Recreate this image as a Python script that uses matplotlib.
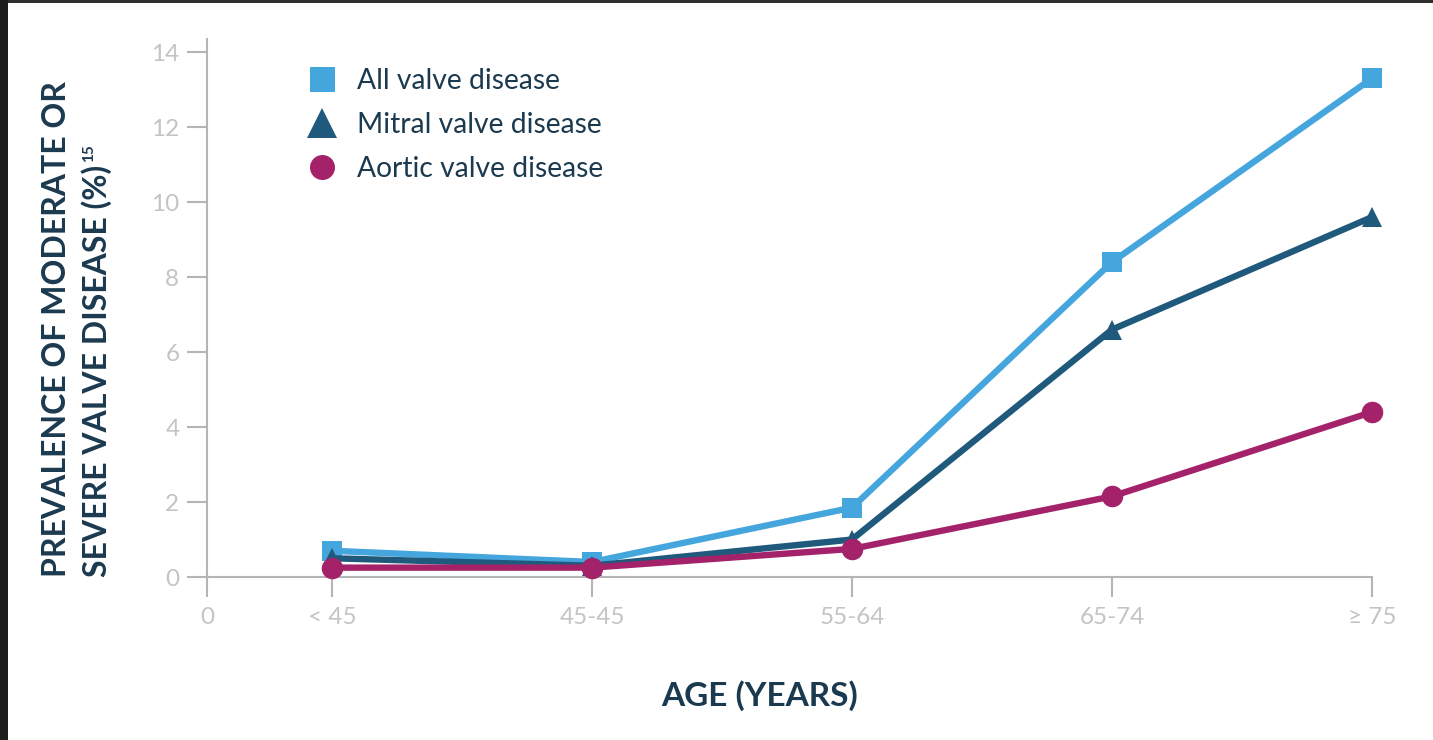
import matplotlib
matplotlib.use("Agg")
import matplotlib.pyplot as plt
from matplotlib.lines import Line2D
from matplotlib.patches import Rectangle

# ---- data -------------------------------------------------------------
age_groups = ["< 45", "45-45", "55-64", "65-74", "\u2265 75"]
all_valve = [0.7, 0.4, 1.85, 8.4, 13.3]
mitral_valve = [0.5, 0.3, 1.0, 6.6, 9.6]
aortic_valve = [0.25, 0.25, 0.75, 2.15, 4.4]
y_ticks = [0, 2, 4, 6, 8, 10, 12, 14]
origin_label = "0"

series_names = ["All valve disease", "Mitral valve disease", "Aortic valve disease"]

# ---- style ------------------------------------------------------------
C_ALL = "#45a6de"
C_MITRAL = "#1f5a7c"
C_AORTIC = "#a4226a"
C_TEXT = "#1b3a4f"
C_AXIS = "#b5b5b5"
C_TICKLBL = "#c4c4c4"

plt.rcParams["font.family"] = ["Lato", "DejaVu Sans"]

W, H = 1433, 740
fig = plt.figure(figsize=(W / 100, H / 100), dpi=100)
fig.patch.set_facecolor("white")

# dark frame strips along top and left edges
fig.patches.append(Rectangle((0, 1 - 3 / H), 1, 3 / H, transform=fig.transFigure,
                             facecolor="#2e2e2e", edgecolor="none", zorder=0))
fig.patches.append(Rectangle((0, 0), 8 / W, 1, transform=fig.transFigure,
                             facecolor="#1d1d1d", edgecolor="none", zorder=0))

ax_left, ax_right = 207 / W, 1372 / W
ax_bottom, ax_top = (H - 577) / H, (H - 39) / H
ax = fig.add_axes([ax_left, ax_bottom, ax_right - ax_left, ax_top - ax_bottom])

x = list(range(1, len(age_groups) + 1))
x_origin = 1 - 125 / 260

line_kw = dict(linewidth=4.6, clip_on=False, markeredgewidth=0)
ax.plot(x, all_valve, color=C_ALL, marker="s", markersize=14.5, zorder=3, **line_kw)
ax.plot(x, mitral_valve, color=C_MITRAL, marker="^", markersize=15, zorder=4, **line_kw)
ax.plot(x, aortic_valve, color=C_AORTIC, marker="o", markersize=15.5, zorder=5, **line_kw)

ax.set_xlim(x_origin, x[-1])
ax.set_ylim(0, 14.35)

ax.set_xticks([x_origin] + x)
ax.set_xticklabels([origin_label] + age_groups)
ax.set_yticks(y_ticks)
ax.set_yticklabels([str(v) for v in y_ticks])

for side in ("top", "right"):
    ax.spines[side].set_visible(False)
for side in ("left", "bottom"):
    ax.spines[side].set_color(C_AXIS)
    ax.spines[side].set_linewidth(1.5)

ax.tick_params(axis="both", direction="out", length=14.4, width=1.5, color=C_AXIS,
               labelcolor=C_TICKLBL, labelsize=17.5)
ax.tick_params(axis="y", pad=5.5)
ax.tick_params(axis="x", pad=7.5)

# legend
handles = [
    Line2D([], [], linestyle="none", marker="s", markersize=18, color=C_ALL, markeredgewidth=0),
    Line2D([], [], linestyle="none", marker="^", markersize=21, color=C_MITRAL, markeredgewidth=0),
    Line2D([], [], linestyle="none", marker="o", markersize=18, color=C_AORTIC, markeredgewidth=0),
]
leg = ax.legend(handles, series_names, loc="upper left",
                bbox_to_anchor=(308 / W, (H - 68) / H), bbox_transform=fig.transFigure,
                frameon=False, fontsize=20.3, handlelength=0.96, handletextpad=0.77,
                labelspacing=0.64, borderpad=0, borderaxespad=0)
for t in leg.get_texts():
    t.set_color(C_TEXT)

# axis titles
ylab_kw = dict(rotation=90, ha="left", va="bottom", fontsize=23, fontweight="bold",
               color=C_TEXT)
fig.text(42 / W, (H - 577) / H, "PREVALENCE OF MODERATE OR", **ylab_kw)
line2 = fig.text(81 / W, (H - 577) / H, "SEVERE VALVE DISEASE (%)", **ylab_kw)

fig.text(760 / W, (H - 696) / H, "AGE (YEARS)", ha="center", va="center",
         fontsize=24, fontweight="bold", color=C_TEXT)

# footnote reference after the second title line
fig.canvas.draw()
bb = line2.get_window_extent().transformed(fig.transFigure.inverted())
fig.text(bb.x0 + 1 / W, bb.y1 + 3 / H, "15", rotation=90, ha="left", va="bottom",
         fontsize=11, fontweight="bold", color=C_TEXT)

fig.savefig("out.png", dpi=100, facecolor=fig.get_facecolor())
